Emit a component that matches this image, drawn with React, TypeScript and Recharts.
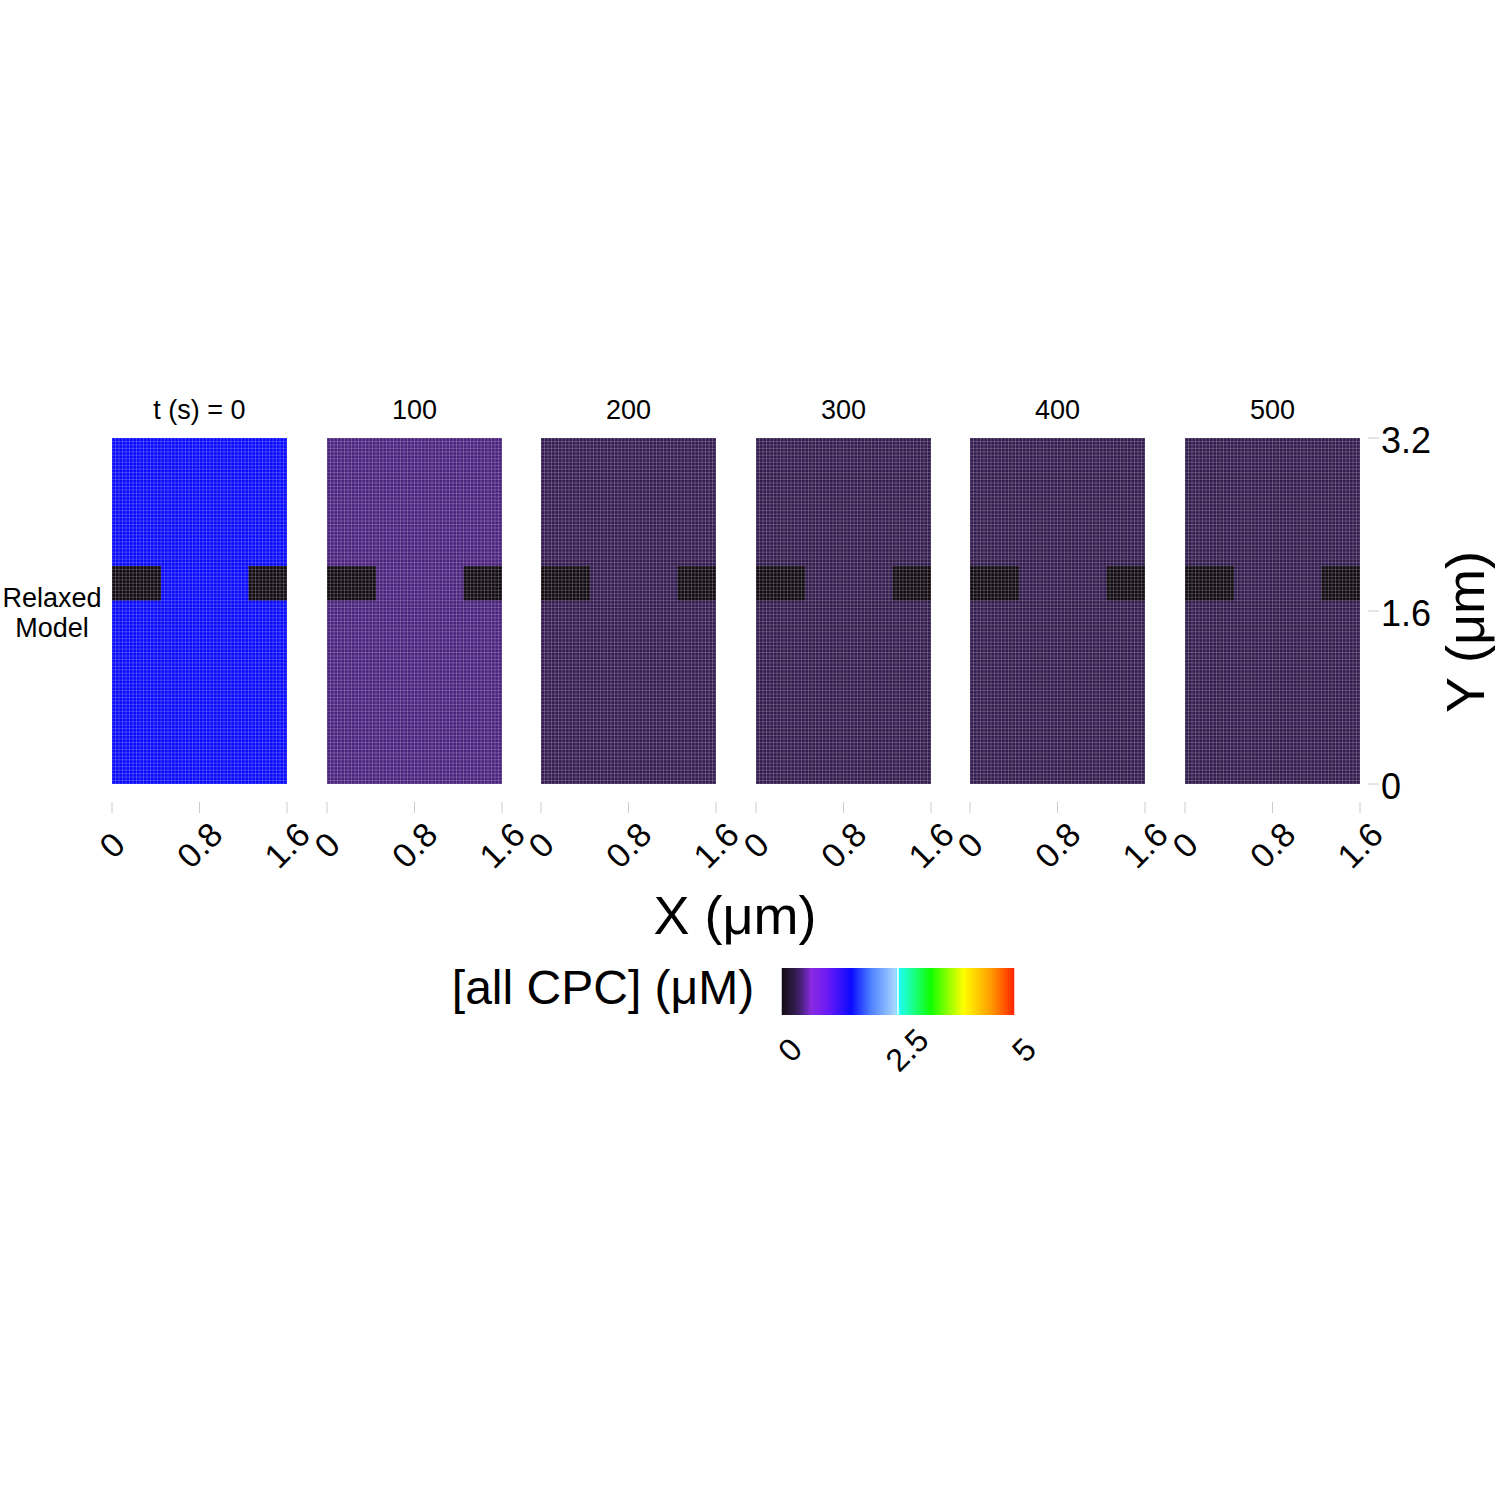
import React from "react";
import { ComposedChart, XAxis, YAxis, ReferenceArea, ReferenceLine } from "recharts";

// ---------------- data ----------------
const panelTitles = ["t (s) = 0", "100", "200", "300", "400", "500"];
// cytoplasmic [all CPC] (uM) per time point
const cytoConc = [1.5, 0.44, 0.31, 0.3, 0.3, 0.3];
// dark (empty) blocks inside each panel (um), concentration ~0
const blockX1 = [0, 1.248];
const blockX2 = [0.448, 1.6];
const blockY1 = [1.696, 1.696];
const blockY2 = [2.016, 2.016];
const blockConc = [0, 0];
const xTicks = [0, 0.8, 1.6];
const yTicks = [0, 1.6, 3.2];
const domainX = [0, 1.6];
const domainY = [0, 3.2];
const nCellsX = 50;
const nCellsY = 100;
const cbarTicks = [0, 2.5, 5];
const cbarDomain = [0, 5];
// colour map (value -> colour)
const cmapValues = [0, 0.3, 0.45, 0.65, 1.0, 1.5, 1.9, 2.45, 2.5, 3.2, 3.9, 4.5, 5];
const cmapColors = ["#110b11", "#321c4e", "#4d2382", "#8a2be2", "#6a1af5", "#0a0aff", "#4a7dff", "#a8d8ff", "#20ffff", "#10ff00", "#ffff00", "#ff9900", "#ff2000"];

// ---------------- helpers ----------------
const FONT = "'Liberation Sans', Arial, Helvetica, sans-serif";
const hex = (c: string) => [1, 3, 5].map((i) => parseInt(c.slice(i, i + 2), 16));
function cmap(v: number): string {
  if (v <= cmapValues[0]) return cmapColors[0];
  for (let i = 1; i < cmapValues.length; i++) {
    if (v <= cmapValues[i]) {
      const t = (v - cmapValues[i - 1]) / (cmapValues[i] - cmapValues[i - 1]);
      const a = hex(cmapColors[i - 1]);
      const b = hex(cmapColors[i]);
      const m = a.map((ai, k) => Math.round(ai + (b[k] - ai) * t));
      return `rgb(${m[0]},${m[1]},${m[2]})`;
    }
  }
  return cmapColors[cmapColors.length - 1];
}
const gridX = Array.from({ length: nCellsX + 1 }, (_, i) => +((i * domainX[1]) / nCellsX).toFixed(5));
const gridY = Array.from({ length: nCellsY + 1 }, (_, i) => +((i * domainY[1]) / nCellsY).toFixed(5));

// ---------------- layout ----------------
const PLOT_LEFTS = [112, 327, 541, 756, 970, 1185];
const PLOT_W = 175;
const PLOT_TOP = 438;
const PLOT_H = 346;
const ML = 40;
const MR = 40;
const MT = 30;
const XAXIS_H = 100;

const XTick = (p: any) => {
  const { x, y, payload } = p;
  const cy = y + 61;
  return (
    <g>
      <line x1={x} x2={x} y1={y + 18} y2={y + 29} stroke="#cccccc" strokeWidth={1} />
      <text x={x} y={cy} textAnchor="middle" dominantBaseline="central" fontSize={34} fontFamily={FONT} fill="#000" transform={`rotate(-45 ${x} ${cy})`}>
        {payload.value}
      </text>
    </g>
  );
};

const YTick = (p: any) => {
  const { x, y, payload } = p;
  return (
    <g>
      <line x1={x + 8} x2={x + 19} y1={y} y2={y} stroke="#cccccc" strokeWidth={1} />
      <text x={x + 21} y={y + 2} textAnchor="start" dominantBaseline="central" fontSize={36} fontFamily={FONT} fill="#000">
        {payload.value}
      </text>
    </g>
  );
};

const CbTick = (p: any) => {
  const { x, y, payload } = p;
  const cx = x + 9;
  const cy = y + 35;
  return (
    <text x={cx} y={cy} textAnchor="middle" dominantBaseline="central" fontSize={32} fontFamily={FONT} fill="#000" transform={`rotate(-45 ${cx} ${cy})`}>
      {payload.value}
    </text>
  );
};

function Panel({ idx }: { idx: number }) {
  const last = idx === PLOT_LEFTS.length - 1;
  const yW = last ? 100 : 0;
  const width = ML + PLOT_W + yW + MR;
  const height = MT + PLOT_H + XAXIS_H;
  return (
    <div style={{ position: "absolute", left: PLOT_LEFTS[idx] - ML, top: PLOT_TOP - MT }}>
      <ComposedChart width={width} height={height} margin={{ top: MT, right: MR, bottom: 0, left: ML }} data={[]}>
        <XAxis type="number" dataKey="x" domain={domainX} ticks={xTicks} interval={0} height={XAXIS_H} tick={<XTick />} tickSize={0} tickMargin={0} tickLine={false} axisLine={false} allowDataOverflow />
        {last ? (
          <YAxis type="number" dataKey="y" orientation="right" domain={domainY} ticks={yTicks} interval={0} width={yW} tick={<YTick />} tickSize={0} tickMargin={0} tickLine={false} axisLine={false} allowDataOverflow />
        ) : (
          <YAxis type="number" dataKey="y" domain={domainY} hide allowDataOverflow />
        )}
        <ReferenceArea x1={domainX[0]} x2={domainX[1]} y1={domainY[0]} y2={domainY[1]} fill={cmap(cytoConc[idx])} fillOpacity={1} stroke="none" />
        {blockX1.map((bx, i) => (
          <ReferenceArea key={"b" + i} x1={bx} x2={blockX2[i]} y1={blockY1[i]} y2={blockY2[i]} fill={cmap(blockConc[i])} fillOpacity={1} stroke="none" />
        ))}
        {gridX.map((v) => (
          <ReferenceLine key={"gx" + v} x={v} stroke="#ffffff" strokeOpacity={0.2} strokeWidth={1} />
        ))}
        {gridY.map((v) => (
          <ReferenceLine key={"gy" + v} y={v} stroke="#ffffff" strokeOpacity={0.2} strokeWidth={1} />
        ))}
      </ComposedChart>
    </div>
  );
}

function ColorBar() {
  const left = 781;
  const top = 968;
  const w = 234;
  const h = 47;
  const mL = 20;
  const mR = 40;
  return (
    <div style={{ position: "absolute", left: left - mL, top }}>
      <ComposedChart width={w + mL + mR} height={h + 80} margin={{ top: 0, right: mR, bottom: 0, left: mL }} data={[]}>
        <XAxis type="number" dataKey="x" domain={cbarDomain} ticks={cbarTicks} interval={0} height={80} tick={<CbTick />} tickSize={0} tickMargin={0} tickLine={false} axisLine={false} allowDataOverflow />
        <YAxis type="number" dataKey="y" domain={[0, 1]} hide allowDataOverflow />
        <ReferenceArea x1={cbarDomain[0]} x2={cbarDomain[1]} y1={0} y2={1} fill="url(#cbGrad)" fillOpacity={1} stroke="none" />
        {cbarTicks.map((v) => (
          <ReferenceLine key={"ct" + v} x={v} stroke="#ffffff" strokeWidth={1.5} />
        ))}
      </ComposedChart>
    </div>
  );
}

const txt = (x: number, y: number, size: number, extra: React.CSSProperties = {}): React.CSSProperties => ({
  position: "absolute",
  left: x,
  top: y,
  transform: "translate(-50%, -50%)",
  fontFamily: FONT,
  fontSize: size,
  color: "#000",
  whiteSpace: "nowrap",
  lineHeight: 1,
  ...extra,
});

export default function App() {
  return (
    <div style={{ position: "absolute", left: 0, top: 0, width: 1500, height: 1500, background: "#fff", overflow: "hidden" }}>
      <svg width={0} height={0} style={{ position: "absolute" }}>
        <defs>
          <linearGradient id="cbGrad" x1="0" y1="0" x2="1" y2="0">
            {cmapValues.map((v, i) => (
              <stop key={i} offset={`${((v - cbarDomain[0]) / (cbarDomain[1] - cbarDomain[0])) * 100}%`} stopColor={cmapColors[i]} />
            ))}
          </linearGradient>
        </defs>
      </svg>
      {PLOT_LEFTS.map((_, i) => (
        <Panel key={i} idx={i} />
      ))}
      {panelTitles.map((t, i) => (
        <div key={t} style={txt(PLOT_LEFTS[i] + PLOT_W / 2, 410, 27)}>{t}</div>
      ))}
      <div style={txt(52, 613, 27, { textAlign: "center", lineHeight: "30px" })}>
        Relaxed
        <br />
        Model
      </div>
      <div style={txt(735, 915, 54)}>X (μm)</div>
      <div style={txt(1465, 632, 54, { transform: "translate(-50%, -50%) rotate(-90deg)" })}>Y (μm)</div>
      <div style={txt(603, 988, 48)}>[all CPC] (μM)</div>
      <ColorBar />
    </div>
  );
}
